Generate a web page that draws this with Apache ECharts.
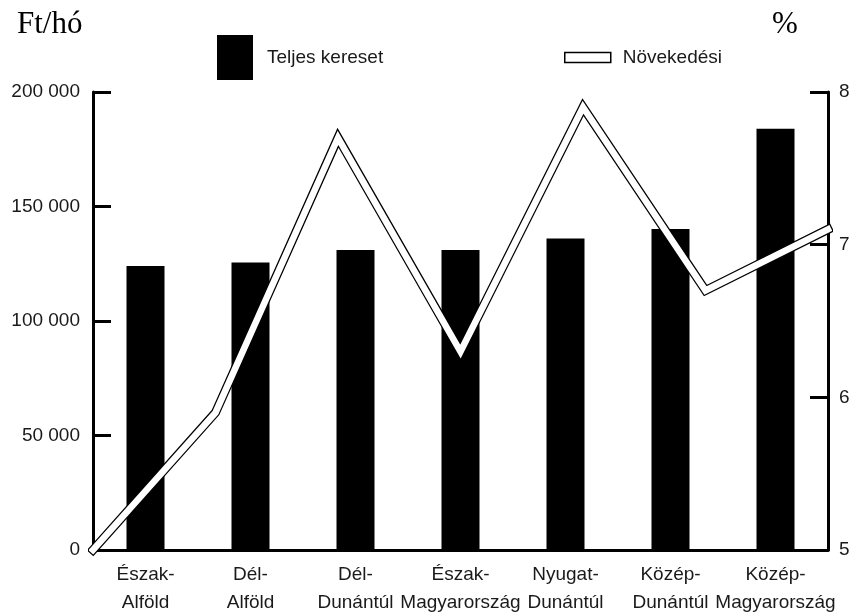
<!DOCTYPE html>
<html>
<head>
<meta charset="utf-8">
<script src="https://cdn.jsdelivr.net/npm/echarts@6/dist/echarts.min.js"></script>
<style>
  html, body { margin: 0; padding: 0; background: #fff; }
  #chart { width: 853px; height: 613px; }
</style>
</head>
<body>
<div id="chart"></div>
<script>
// Regions (two-line labels)
const regions = [
  'Észak-\nAlföld',
  'Dél-\nAlföld',
  'Dél-\nDunántúl',
  'Észak-\nMagyarország',
  'Nyugat-\nDunántúl',
  'Közép-\nDunántúl',
  'Közép-\nMagyarország'
];
// Total earnings, Ft per month
const teljesKereset = [124000, 125500, 131000, 131000, 136000, 140200, 184000];
// Growth rate, %
const novekedesi = [5.0, 5.9, 7.7, 6.3, 7.9, 6.7, 7.1];
// Axis ranges
const ftTicks = { min: 0, max: 200000, step: 50000 };
const pctTicks = { min: 5, max: 8, step: 1 };

const sans = '"Liberation Sans Narrow", "Liberation Sans", Arial, sans-serif';
const serif = '"Liberation Serif", "Times New Roman", serif';
const ink = '#000';
const textInk = '#1a1a1a';
const labelSize = 19;

const chart = echarts.init(document.getElementById('chart'), null, { renderer: 'canvas' });

chart.setOption({
  backgroundColor: '#fff',
  animation: false,
  title: [
    { text: 'Ft/hó', left: 12, top: 4, textStyle: { fontFamily: serif, fontSize: 31, fontWeight: 'normal', color: ink } },
    { text: '%', left: 767, top: 4, textStyle: { fontFamily: serif, fontSize: 31, fontWeight: 'normal', color: ink } }
  ],
  legend: [
    {
      left: 212, top: 30,
      itemWidth: 36, itemHeight: 45,
      data: [{ name: 'Teljes kereset', icon: 'rect', itemStyle: { color: ink } }],
      textStyle: { fontFamily: sans, fontSize: labelSize, color: textInk, padding: [0, 0, 0, 9] },
      selectedMode: false
    },
    {
      left: 559, top: 43,
      itemWidth: 46, itemHeight: 10,
      data: [{ name: 'Növekedési', icon: 'rect', itemStyle: { color: '#fff', borderColor: ink, borderWidth: 1.5 } }],
      textStyle: { fontFamily: sans, fontSize: labelSize, color: textInk, padding: [0, 0, 0, 7] },
      selectedMode: false
    }
  ],
  grid: { left: 93, right: 25, top: 92, bottom: 63, containLabel: false, outerBoundsMode: 'none' },
  xAxis: [
    {
      type: 'category',
      data: regions,
      boundaryGap: true,
      axisLine: { lineStyle: { color: ink, width: 3 } },
      axisTick: { inside: true, length: 10, lineStyle: { color: ink, width: 3 } },
      axisLabel: { fontFamily: sans, fontSize: labelSize, color: textInk, lineHeight: 28, margin: 11, interval: 0 }
    },
    {
      type: 'category',
      data: regions,
      boundaryGap: false,
      show: false
    }
  ],
  yAxis: [
    {
      type: 'value',
      min: ftTicks.min, max: ftTicks.max, interval: ftTicks.step,
      splitLine: { show: false },
      axisLine: { show: true, lineStyle: { color: ink, width: 3 } },
      axisTick: { show: true, inside: true, length: 18, lineStyle: { color: ink, width: 3 } },
      axisLabel: {
        fontFamily: sans, fontSize: labelSize, color: textInk, margin: 13, padding: [6, 0, 0, 0],
        formatter: v => String(v).replace(/\B(?=(\d{3})+(?!\d))/g, ' ')
      }
    },
    {
      type: 'value',
      position: 'right',
      min: pctTicks.min, max: pctTicks.max, interval: pctTicks.step,
      splitLine: { show: false },
      axisLine: { show: true, lineStyle: { color: ink, width: 3 } },
      axisTick: { show: true, inside: true, length: 18, lineStyle: { color: ink, width: 3 } },
      axisLabel: { fontFamily: sans, fontSize: labelSize, color: textInk, margin: 11, padding: [6, 0, 0, 0] }
    }
  ],
  series: [
    {
      name: 'Teljes kereset',
      type: 'bar',
      data: teljesKereset,
      barWidth: 38,
      itemStyle: { color: ink }
    },
    {
      // outline of the hollow growth line
      name: 'Növekedési',
      type: 'line',
      xAxisIndex: 1, yAxisIndex: 1,
      data: novekedesi,
      symbol: 'none',
      clip: false,
      z: 3,
      lineStyle: { color: ink, width: 9, join: 'miter', miterLimit: 10, cap: 'square' }
    },
    {
      // white core of the growth line
      name: 'Növekedési',
      type: 'line',
      xAxisIndex: 1, yAxisIndex: 1,
      data: novekedesi,
      symbol: 'none',
      clip: false,
      z: 4,
      lineStyle: { color: '#fff', width: 6.5, join: 'miter', miterLimit: 10, cap: 'square' }
    }
  ]
});
</script>
</body>
</html>
